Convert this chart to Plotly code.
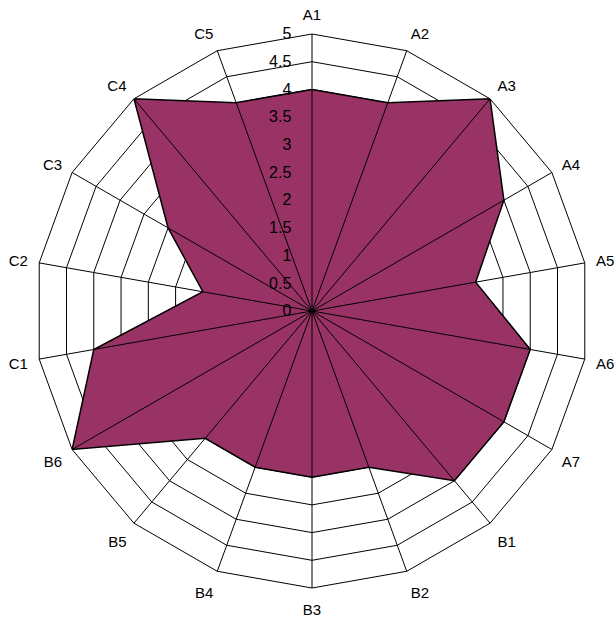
import plotly.graph_objects as go

categories = ["A1", "A2", "A3", "A4", "A5", "A6", "A7",
              "B1", "B2", "B3", "B4", "B5", "B6",
              "C1", "C2", "C3", "C4", "C5"]
values = [4, 4, 5, 4, 3, 4, 4,
          4, 3, 3, 3, 3, 5,
          4, 2, 3, 5, 4]
tick_vals = [0, 0.5, 1, 1.5, 2, 2.5, 3, 3.5, 4, 4.5, 5]
tick_text = ["0", "0.5", "1", "1.5", "2", "2.5", "3", "3.5", "4", "4.5", "5"]

FONT = "Liberation Sans, Arial, sans-serif"
PAD = "\u00a0\u00a0\u00a0\u00a0"  # gap between tick labels and the axis

fig = go.Figure()
fig.add_trace(go.Scatterpolar(
    r=values + values[:1],
    theta=categories + categories[:1],
    mode="lines",
    fill="toself",
    fillcolor="#993366",
    line=dict(color="black", width=1.5),
    subplot="polar",
    showlegend=False,
    hoverinfo="skip",
))
# overlay trace for the spokes / tick-label layer
fig.add_trace(go.Scatterpolar(
    r=values, theta=categories, mode="lines",
    line=dict(color="rgba(0,0,0,0)", width=0),
    subplot="polar2", showlegend=False, hoverinfo="skip",
))
# hub dot where the spokes meet (radial minimum)
fig.add_trace(go.Scatterpolar(
    r=[tick_vals[0]], theta=[categories[0]], mode="markers",
    marker=dict(color="black", size=7),
    subplot="polar2", showlegend=False, hoverinfo="skip",
))

common_angular = dict(
    categoryorder="array", categoryarray=categories,
    direction="clockwise", rotation=90,
)

fig.update_layout(
    width=615, height=626,
    margin=dict(l=35, r=26, t=34, b=38),
    paper_bgcolor="white",
    font=dict(family=FONT, size=15, color="black"),
    polar=dict(
        domain=dict(x=[0, 1], y=[0, 1]),
        bgcolor="white",
        gridshape="linear",
        angularaxis=dict(
            **common_angular,
            showgrid=False,
            showline=True, linecolor="black", linewidth=1,
            ticks="outside", ticklen=8, tickcolor="rgba(0,0,0,0)",
            tickfont=dict(family=FONT, size=15, color="black"),
        ),
        radialaxis=dict(
            range=[0, 5], tickvals=tick_vals,
            showgrid=True, gridcolor="black", gridwidth=1,
            showline=False, showticklabels=False, ticks="",
        ),
    ),
    polar2=dict(
        domain=dict(x=[0, 1], y=[0, 1]),
        bgcolor="rgba(0,0,0,0)",
        gridshape="linear",
        angularaxis=dict(
            **common_angular,
            showgrid=True, gridcolor="black", gridwidth=1,
            showline=False, showticklabels=False, ticks="",
        ),
        radialaxis=dict(
            range=[0, 5], tickvals=tick_vals,
            ticktext=[t + PAD for t in tick_text],
            angle=90, side="counterclockwise", tickangle=90,
            showgrid=False, showline=False, ticks="",
            tickfont=dict(family=FONT, size=16, color="black"),
        ),
    ),
)

fig.write_html("out.html")
